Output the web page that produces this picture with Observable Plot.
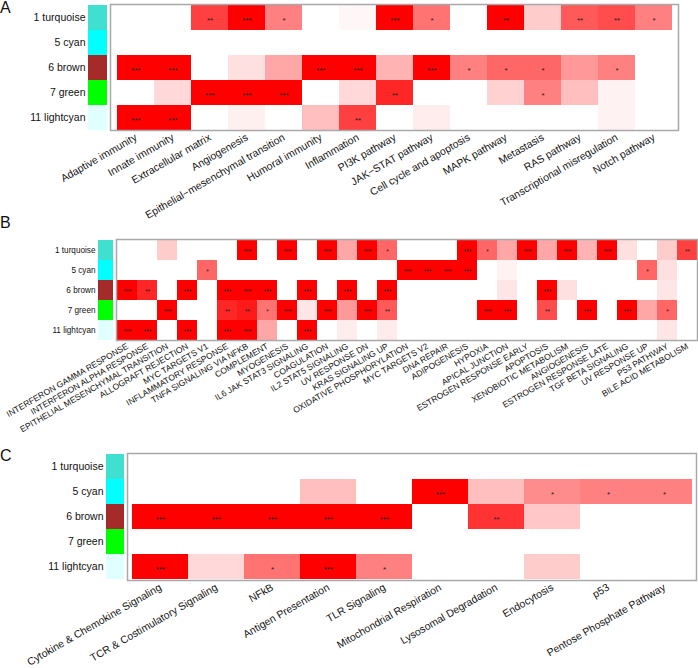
<!DOCTYPE html>
<html><head><meta charset="utf-8">
<script src="https://cdn.jsdelivr.net/npm/d3@7"></script>
<script src="https://cdn.jsdelivr.net/npm/@observablehq/plot@0.6"></script>
<style>
body{margin:0;background:#fff;font-family:"Liberation Sans",Arial,sans-serif;}
#root{position:relative;width:698px;height:668px;overflow:hidden;background:#fff;}
#root svg{position:absolute;left:0;overflow:visible;}
.lbl{position:absolute;left:0;font-size:16px;line-height:16px;color:#111;}
</style></head><body><div id="root"></div>
<script>
const modules = ["1 turquoise","5 cyan","6 brown","7 green","11 lightcyan"];
const moduleColors = ["#40E0D0","#00FFFF","#A52A2A","#00FF00","#E0FFFF"];

// Panel A
const pathwaysA = ["Adaptive immunity","Innate immunity","Extracellular matrix","Angiogenesis","Epithelial\u2212mesenchymal transition","Humoral immunity","Inflammation","PI3K pathway","JAK\u2212STAT pathway","Cell cycle and apoptosis","MAPK pathway","Metastasis","RAS pathway","Transcriptional misregulation","Notch pathway"];
const intensityA = [
  [0,0,0.75,1,0.5,0,0.03,1,0.55,0,1,0.2,0.65,0.7,0.5],
  [0,0,0,0,0,0,0,0,0,0,0,0,0,0,0],
  [1,1,0,0.12,0.35,1,1,0.3,1,0.5,0.6,0.6,0.4,0.5,0],
  [0,0.15,1,1,1,0,0.15,0.85,0,0,0.18,0.5,0.25,0.05,0],
  [1,1,0,0.06,0,0.25,0.75,0,0.07,0,0,0,0,0.05,0]
];
const starsA = [
  [0,0,2,3,1,0,0,3,1,0,2,0,2,2,1],
  [0,0,0,0,0,0,0,0,0,0,0,0,0,0,0],
  [3,3,0,0,0,3,3,0,3,1,1,1,0,1,0],
  [0,0,3,3,3,0,0,2,0,0,0,1,0,0,0],
  [3,3,0,0,0,0,2,0,0,0,0,0,0,0,0]
];

// Panel B
const hallmarksB = ["INTERFERON GAMMA RESPONSE","INTERFERON ALPHA RESPONSE","EPITHELIAL MESENCHYMAL TRANSITION","ALLOGRAFT REJECTION","MYC TARGETS V1","INFLAMMATORY RESPONSE","TNFA SIGNALING VIA NFKB","COMPLEMENT","MYOGENESIS","IL6 JAK STAT3 SIGNALING","COAGULATION","IL2 STAT5 SIGNALING","UV RESPONSE DN","KRAS SIGNALING UP","OXIDATIVE PHOSPHORYLATION","MYC TARGETS V2","DNA REPAIR","ADIPOGENESIS","HYPOXIA","APICAL JUNCTION","ESTROGEN RESPONSE EARLY","APOPTOSIS","XENOBIOTIC METABOLISM","ANGIOGENESIS","ESTROGEN RESPONSE LATE","TGF BETA SIGNALING","UV RESPONSE UP","P53 PATHWAY","BILE ACID METABOLISM"];
const intensityB = [
  [0,0,0.2,0,0,0,1,0,1,0,1,0.35,1,0.6,0,0,0,1,0.6,0.35,1,0.35,1,0.3,1,0.12,0,0.2,0.75],
  [0,0,0,0,0.6,0,0,0,0,0,0,0,0,0,1,1,1,1,0,0.05,0,0,0,0,0,0,0.6,0.12,0],
  [1,0.85,0,1,0,1,1,1,0,1,0,1,0,1,0,0,0,0,0,0.1,0,1,0.12,0,0,0,0,0.1,0],
  [0,0,1,0,0,0.85,0.9,0.55,1,0.1,1,0.4,1,0.65,0,0,0,0,1,1,0,0.7,0,1,0,1,0.35,0.6,0],
  [1,1,0,1,0,1,1,0.35,0,1,0,0.07,0,0.08,0,0,0,0,0,0,0,0,0,0,0,0,0,0.1,0]
];
const starsB = [
  [0,0,0,0,0,0,3,0,3,0,3,0,3,1,0,0,0,3,1,0,3,0,3,0,3,0,0,0,2],
  [0,0,0,0,1,0,0,0,0,0,0,0,0,0,3,3,3,3,0,0,0,0,0,0,0,0,1,0,0],
  [3,2,0,3,0,3,3,3,0,3,0,3,0,3,0,0,0,0,0,0,0,3,0,0,0,0,0,0,0],
  [0,0,3,0,0,2,2,1,3,0,3,0,3,2,0,0,0,0,3,3,0,2,0,3,0,3,0,1,0],
  [3,3,0,3,0,3,3,0,0,3,0,0,0,0,0,0,0,0,0,0,0,0,0,0,0,0,0,0,0]
];

// Panel C
const pathwaysC = ["Cytokine & Chemokine Signaling","TCR & Costimulatory Signaling","NFkB","Antigen Presentation","TLR Signaling","Mitochondrial Respiration","Lysosomal Degradation","Endocytosis","p53","Pentose Phosphate Pathway"];
const intensityC = [
  [0,0,0,0,0,0,0,0,0,0],
  [0,0,0,0.25,0,1,0.25,0.45,0.5,0.5],
  [1,1,1,1,1,0,0.8,0.22,0,0],
  [0,0,0,0,0,0,0,0,0,0],
  [1,0.15,0.55,1,0.5,0,0,0.2,0,0]
];
const starsC = [
  [0,0,0,0,0,0,0,0,0,0],
  [0,0,0,0,0,3,0,1,1,1],
  [3,3,3,3,3,0,2,0,0,0],
  [0,0,0,0,0,0,0,0,0,0],
  [3,0,1,3,1,0,0,0,0,0]
];

const FONT = '"Liberation Sans", Arial, sans-serif';
const root = document.getElementById("root");

function panel(cols, intens, stars, o) {
  const data = [];
  modules.forEach((m, i) => cols.forEach((c, j) => data.push({module: m, col: c, v: intens[i][j], s: stars[i][j]})));
  const common = {
    width: 698, height: o.svgH,
    marginTop: o.heatT - o.top, marginBottom: o.svgH - (o.heatB - o.top)
  };
  const strip = Plot.plot({
    ...common,
    marginLeft: o.stripL, marginRight: 698 - o.stripR,
    x: {axis: null},
    y: {domain: modules, padding: 0, tickSize: 0, tickPadding: 3, label: null},
    color: {type: "identity"},
    style: {fontSize: o.rowFs + "px", fontFamily: FONT, background: "transparent", color: "#111"},
    marks: [
      Plot.cell(modules, {y: d => d, fill: (d, i) => moduleColors[i], inset: 0})
    ]
  });
  const heat = Plot.plot({
    ...common,
    marginLeft: o.heatL, marginRight: 698 - o.heatR,
    x: {domain: cols, padding: 0, tickRotate: -30, tickSize: 0, tickPadding: o.tickPad, label: null},
    y: {domain: modules, padding: 0, axis: null},
    color: {type: "linear", domain: [0, 1], range: ["#ffffff", "#ff0000"], interpolate: "rgb"},
    style: {fontSize: o.colFs + "px", fontFamily: FONT, background: "transparent", color: "#111"},
    marks: [
      Plot.cell(data, {x: "col", y: "module", fill: "v", inset: 0}),
      Plot.text(data.filter(d => d.s > 0), {x: "col", y: "module", text: d => "*".repeat(d.s), fontSize: o.starFs, dy: o.starDy, fill: "#222"}),
      Plot.frame({stroke: "#a9a9a9", strokeWidth: 1.5})
    ]
  });
  heat.style.top = o.top + "px";
  strip.style.top = o.top + "px";
  root.appendChild(heat);
  root.appendChild(strip);
}

panel(pathwaysA, intensityA, starsA, {top: 0, stripL: 88, stripR: 107, heatL: 110, heatR: 678, heatT: 4, heatB: 130, rowFs: 10.5, colFs: 10.5, starFs: 8, starDy: 2, tickPad: 6, svgH: 225});
panel(hallmarksB, intensityB, starsB, {top: 225, stripL: 98, stripR: 113, heatL: 116, heatR: 697, heatT: 239, heatB: 340, rowFs: 8.2, colFs: 8.5, starFs: 6.5, starDy: 1.6, tickPad: 5, svgH: 215});
panel(pathwaysC, intensityC, starsC, {top: 440, stripL: 106, stripR: 124, heatL: 127, heatR: 696, heatT: 453, heatB: 580, rowFs: 10.5, colFs: 10.5, starFs: 8, starDy: 2, tickPad: 6, svgH: 228});

[["A", 0], ["B", 215], ["C", 448]].forEach(([t, y]) => {
  const d = document.createElement("div");
  d.className = "lbl"; d.style.top = y + "px"; d.textContent = t;
  root.appendChild(d);
});
</script></body></html>
